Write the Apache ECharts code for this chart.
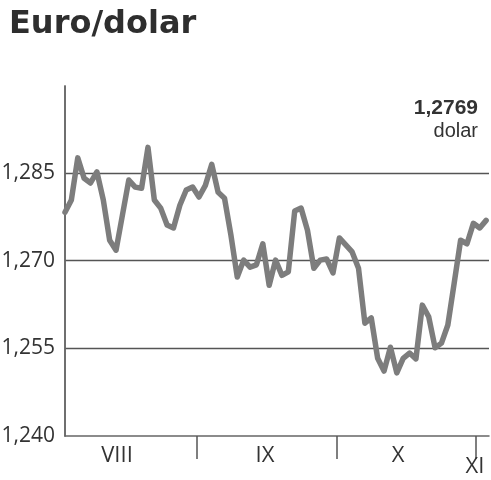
<!DOCTYPE html>
<html>
<head>
<meta charset="utf-8">
<script src="https://cdn.jsdelivr.net/npm/echarts@6/dist/echarts.min.js"></script>
<style>
html,body{margin:0;padding:0;background:#fff;}
#chart{width:491px;height:480px;}
</style>
</head>
<body>
<div id="chart"></div>
<script>
// Daily EUR/USD rate, Aug – early Nov
const rates = [
  1.2783, 1.2804, 1.2876, 1.2841, 1.2833, 1.2852, 1.2804, 1.2735, 1.2718, 1.2778,
  1.2838, 1.2826, 1.2824, 1.2894, 1.2804, 1.2790, 1.2761, 1.2756, 1.2795, 1.2821,
  1.2826, 1.2809, 1.2829, 1.2865, 1.2817, 1.2807, 1.2744, 1.2672, 1.2701, 1.2689,
  1.2693, 1.2729, 1.2658, 1.2701, 1.2675, 1.2681, 1.2785, 1.2790, 1.2752, 1.2687,
  1.2701, 1.2703, 1.2679, 1.2739, 1.2727, 1.2715, 1.2687, 1.2593, 1.2602, 1.2533,
  1.2511, 1.2552, 1.2508, 1.2533, 1.2542, 1.2532, 1.2624, 1.2604, 1.2551, 1.2559,
  1.2590, 1.2662, 1.2735, 1.2729, 1.2764, 1.2756, 1.2769
];
// Month boundaries (in trading-day index units) and month labels
const monthBoundaries = [20.69, 42.63, 64.42];
const monthLabels = ['VIII', 'IX', 'X', 'XI'];
const monthLabelPos = [8.15, 31.35, 52.19, 64.26];
// Y axis
const yMin = 1.240, yMax = 1.2999, yStep = 0.015;
const titleText = 'Euro/dolar';
const lastValueText = '1,2769';
const unitText = 'dolar';

const seriesData = rates.map((v, i) => [i, v]);
const xMax = 66.45;

const chart = echarts.init(document.getElementById('chart'));
const labelFont = { fontFamily: 'Open Sans', fontSize: 22, color: '#333' };

chart.setOption({
  animation: false,
  backgroundColor: '#fff',
  title: [
    { text: titleText, left: 4, top: 4,
      textStyle: { fontFamily: 'DejaVu Sans', fontWeight: 'bold', fontSize: 32, color: '#2e2e2e' } },
    { text: lastValueText, right: 8, top: 93,
      textStyle: { fontFamily: 'Liberation Sans', fontWeight: 'bold', fontSize: 21, color: '#333' } },
    { text: unitText, right: 8, top: 116,
      textStyle: { fontFamily: 'Liberation Sans', fontWeight: 'normal', fontSize: 20, color: '#333' } }
  ],
  grid: { left: 65, right: 2, top: 86, bottom: 44, containLabel: false, outerBoundsMode: 'none' },
  xAxis: [
    { type: 'value', min: 0, max: xMax, position: 'bottom',
      axisLine: { show: true, lineStyle: { color: '#666', width: 1.5 } },
      axisTick: { show: true, customValues: monthBoundaries, length: 23, lineStyle: { color: '#555', width: 1.5 } },
      axisLabel: { show: false }, splitLine: { show: false } },
    { type: 'value', min: 0, max: xMax, position: 'bottom',
      axisLine: { show: false }, axisTick: { show: false }, splitLine: { show: false },
      axisLabel: Object.assign({ show: true, margin: 9,
        customValues: monthLabelPos.slice(0, 3),
        formatter: v => monthLabels[monthLabelPos.indexOf(v)] }, labelFont) },
    { type: 'value', min: 0, max: xMax, position: 'bottom',
      axisLine: { show: false }, axisTick: { show: false }, splitLine: { show: false },
      axisLabel: Object.assign({ show: true, margin: 20,
        customValues: monthLabelPos.slice(3),
        formatter: v => monthLabels[monthLabelPos.indexOf(v)] }, labelFont) }
  ],
  yAxis: [
    { type: 'value', min: yMin, max: yMax, interval: yStep,
      axisLine: { show: true, lineStyle: { color: '#666', width: 1.5 } },
      axisTick: { show: false },
      axisLabel: Object.assign({ margin: 10, showMaxLabel: false,
        formatter: v => v.toFixed(3).replace('.', ',') }, labelFont, { fontSize: 21 }),
      splitLine: { show: true, showMaxLine: false, showMinLine: false, lineStyle: { color: '#555', width: 1.3 } } },
    { type: 'value', min: yMin, max: yMax, position: 'right',
      axisLine: { show: true, lineStyle: { color: '#666', width: 1.5 } },
      axisTick: { show: false }, axisLabel: { show: false }, splitLine: { show: false } }
  ],
  series: [{
    type: 'line', xAxisIndex: 0, yAxisIndex: 0,
    data: seriesData, symbol: 'none', smooth: false,
    lineStyle: { color: '#7d7d7d', width: 5.5, join: 'round', cap: 'round' }
  }]
});
</script>
</body>
</html>
